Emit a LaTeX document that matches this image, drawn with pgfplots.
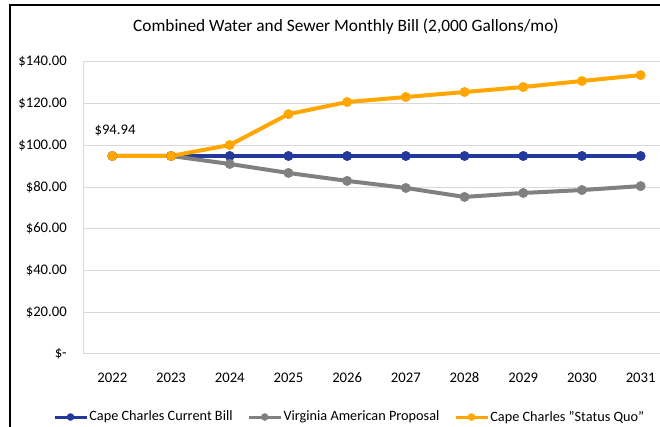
\documentclass[border=0pt]{standalone}
\usepackage{fontspec}
\setmainfont{Carlito}
\usepackage{pgfplots}
\pgfplotsset{compat=1.18}
\definecolor{cblue}{RGB}{35,57,155}
\definecolor{cgray}{RGB}{128,128,128}
\definecolor{corange}{RGB}{255,166,0}
\definecolor{cgrid}{RGB}{217,217,217}
\begin{document}
\begin{tikzpicture}
\useasboundingbox (0,0) rectangle (495pt,320.25pt);
\clip (0,0) rectangle (495pt,320.25pt);
\fill[white] (0,0) rectangle (495pt,320.25pt);
\draw[line width=2pt,black] (7.5pt,-1pt) -- (7.5pt,316.5pt) -- (496pt,316.5pt);
\node[font=\fontsize{13pt}{15.5pt}\selectfont, anchor=center] at (259.5pt,300pt) {Combined Water and Sewer Monthly Bill (2,000 Gallons/mo)};
\begin{axis}[
  at={(62.25pt,54.75pt)}, anchor=south west,
  scale only axis, width=440.25pt, height=219pt,
  xmin=-0.5, xmax=9.5, ymin=0, ymax=140,
  xtick={0,1,2,3,4,5,6,7,8,9},
  xticklabels={2022,2023,2024,2025,2026,2027,2028,2029,2030,2031},
  ytick={0,20,40,60,80,100,120,140},
  yticklabels={{\$-\hspace{6.75pt}},{\$20.00},{\$40.00},{\$60.00},{\$80.00},{\$100.00},{\$120.00},{\$140.00}},
  major tick length=0pt,
  ymajorgrids, grid style={cgrid, line width=0.75pt},
  axis line style={cgrid, line width=0.75pt},
  tick label style={font=\fontsize{11pt}{13pt}\selectfont},
  yticklabel style={inner sep=0pt, xshift=-12pt},
  xticklabel style={inner sep=0pt, yshift=-14pt},
  /pgf/number format/assume math mode=true,
  legend columns=3,
  legend style={at={(-0.0511,-0.2158)}, anchor=west, draw=none, fill=none, inner sep=0pt, outer sep=0pt,
    font=\fontsize{10.7pt}{12.5pt}\selectfont,
    /tikz/every even column/.append style={column sep=10pt},
    nodes={inner sep=1pt}},
  legend image code/.code={\draw[line width=2.25pt, mark size=2.6pt, mark repeat=2,mark phase=2] plot coordinates {(0pt,0pt) (12pt,0pt) (24pt,0pt)};},
  every axis plot/.append style={line width=3pt, mark=*, mark size=3.5pt},
]
\addplot[cblue, mark options={solid, fill=cblue, draw=cblue, line width=0.4pt}] coordinates {(0,94.94) (1,94.94) (2,94.94) (3,94.94) (4,94.94) (5,94.94) (6,94.94) (7,94.94) (8,94.94) (9,94.94)};
\addlegendentry{Cape Charles Current Bill}
\addplot[cgray, mark options={solid, fill=cgray, draw=cgray, line width=0.4pt}] coordinates {(0,94.94) (1,94.94) (2,91.1) (3,86.8) (4,83.0) (5,79.6) (6,75.3) (7,77.2) (8,78.6) (9,80.5)};
\addlegendentry{Virginia American Proposal}
\addplot[corange, mark options={solid, fill=corange, draw=corange, line width=0.4pt}] coordinates {(0,94.94) (1,94.94) (2,100.2) (3,115.0) (4,120.8) (5,123.2) (6,125.6) (7,128.0) (8,130.9) (9,133.7)};
\addlegendentry{Cape Charles \char34 Status Quo\char34}
\node[font=\fontsize{11pt}{13pt}\selectfont, inner sep=0pt] at (axis cs:0,94.94) [yshift=19pt, xshift=2pt] {\$94.94};
\end{axis}
\end{tikzpicture}
\end{document}
